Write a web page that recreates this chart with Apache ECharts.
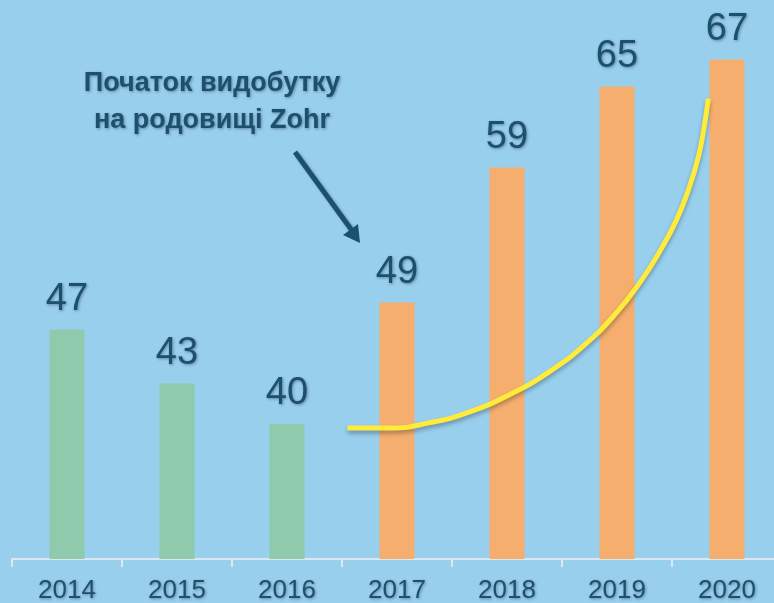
<!DOCTYPE html>
<html>
<head>
<meta charset="utf-8">
<script src="https://cdn.jsdelivr.net/npm/echarts@6/dist/echarts.min.js"></script>
<style>
  html, body { margin: 0; padding: 0; background: #98cfed; }
  #chart { width: 774px; height: 603px; }
</style>
</head>
<body>
<div id="chart"></div>
<script>
// production by year
const years = ["2014", "2015", "2016", "2017", "2018", "2019", "2020"]
const values = [47, 43, 40, 49, 59, 65, 67]
// years before Zohr are green, after are orange
const before = [47, 43, 40, null, null, null, null]
const after = [null, null, null, 49, 59, 65, 67]
// hand-drawn growth curve, in [category position, value]
const curveX = [3.05, 3.44, 3.80, 4.16, 4.53, 4.89, 5.21, 5.48, 5.71, 5.89, 6.04, 6.16, 6.24, 6.29, 6.33]
const curveY = [39.7, 39.7, 40.1, 40.9, 42.2, 43.9, 45.9, 48.1, 50.5, 52.8, 55.1, 57.6, 59.8, 61.9, 64.1]

const textColor = "#1b506e"
const shadow = {
  textShadowColor: "rgba(0,0,0,0.35)",
  textShadowBlur: 3,
  textShadowOffsetX: 1,
  textShadowOffsetY: 1
}

const chart = echarts.init(document.getElementById("chart"))

const barLabel = {
  show: true,
  position: "top",
  distance: 11,
  fontFamily: "Liberation Sans",
  fontSize: 38,
  color: textColor,
  ...shadow
}

chart.setOption({
  backgroundColor: "#98cfed",
  animation: false,
  grid: { left: 12, top: 19, width: 770, height: 540, outerBoundsMode: "none" },
  xAxis: [
    {
      type: "category",
      data: years,
      axisLine: { lineStyle: { color: "#dbe8f1", width: 2 } },
      axisTick: { show: true, length: 8, lineStyle: { color: "#dbe8f1", width: 2 } },
      axisLabel: {
        margin: 19,
        fontFamily: "Liberation Sans",
        fontSize: 26,
        color: textColor,
        ...shadow
      }
    },
    { type: "value", min: 0, max: 7, show: false }
  ],
  yAxis: { type: "value", min: 30, max: 70, show: false },
  series: [
    {
      type: "bar",
      data: before,
      barWidth: 35,
      barGap: "-100%",
      itemStyle: { color: "#8fcaad" },
      label: barLabel
    },
    {
      type: "bar",
      data: after,
      barWidth: 35,
      itemStyle: { color: "#f5ae6e" },
      label: barLabel
    },
    {
      type: "line",
      xAxisIndex: 1,
      data: curveX.map((x, i) => [x, curveY[i]]),
      smooth: 0.5,
      symbol: "none",
      lineStyle: {
        color: "#ffeb3b",
        width: 5,
        shadowColor: "rgba(0,0,0,0.3)",
        shadowBlur: 4,
        shadowOffsetY: 3
      },
      z: 5
    }
  ],
  graphic: [
    {
      type: "text",
      x: 212,
      y: 65,
      style: {
        text: "Початок видобутку\nна родовищі Zohr",
        align: "center",
        fontFamily: "Liberation Sans",
        fontWeight: "bold",
        fontSize: 27,
        lineHeight: 37,
        fill: textColor,
        ...shadow
      }
    },
    {
      type: "line",
      shape: { x1: 295, y1: 152, x2: 353, y2: 232 },
      style: { stroke: textColor, lineWidth: 5, shadowColor: "rgba(0,0,0,0.3)", shadowBlur: 3, shadowOffsetX: 2, shadowOffsetY: 2 }
    },
    {
      type: "polygon",
      shape: { points: [[360, 243], [343, 235], [358, 224]] },
      style: { fill: textColor }
    }
  ]
})
</script>
</body>
</html>
